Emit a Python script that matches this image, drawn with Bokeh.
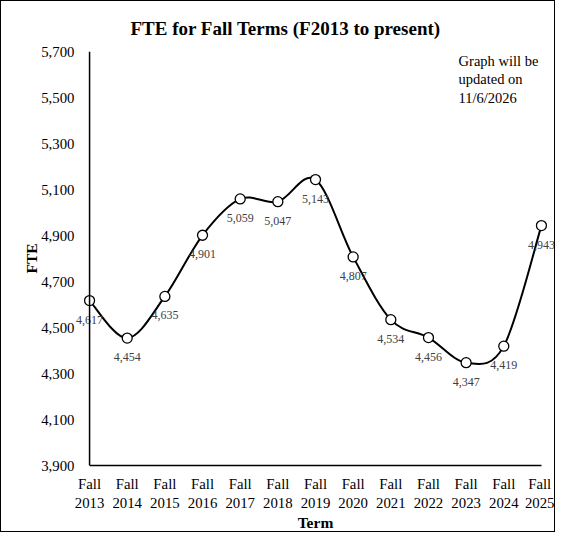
import numpy as np
from bokeh.core.properties import value
from bokeh.embed import file_html
from bokeh.models import FixedTicker, NumeralTickFormatter, Range1d, Span
from bokeh.plotting import figure
from bokeh.resources import INLINE

term_labels = [
    "Fall\n2013", "Fall\n2014", "Fall\n2015", "Fall\n2016", "Fall\n2017",
    "Fall\n2018", "Fall\n2019", "Fall\n2020", "Fall\n2021", "Fall\n2022",
    "Fall\n2023", "Fall\n2024", "Fall\n2025",
]
fte = [4617, 4454, 4635, 4901, 5059, 5047, 5143, 4807, 4534, 4456, 4347, 4419, 4943]
y_ticks = [3900, 4100, 4300, 4500, 4700, 4900, 5100, 5300, 5500, 5700]
note_lines = ["Graph will be", "updated on", "11/6/2026"]

FONT = "Liberation Serif"


def smooth_segments(xs, ys):
    # cubic bezier pieces through the points (Excel style smoothed line)
    px = np.asarray(xs, dtype=float)
    py = np.asarray(ys, dtype=float)
    px = np.concatenate([[px[0]], px, [px[-1]]])
    py = np.concatenate([[py[0]], py, [py[-1]]])
    seg = dict(
        x0=px[1:-2], y0=py[1:-2],
        x1=px[2:-1], y1=py[2:-1],
        cx0=px[1:-2] + (px[2:-1] - px[:-3]) / 6,
        cy0=py[1:-2] + (py[2:-1] - py[:-3]) / 6,
        cx1=px[2:-1] - (px[3:] - px[1:-2]) / 6,
        cy1=py[2:-1] - (py[3:] - py[1:-2]) / 6,
    )
    return seg


xs = list(range(len(fte)))

p = figure(
    width=555,
    height=532,
    x_range=Range1d(-0.4, len(fte) - 0.6),
    y_range=Range1d(y_ticks[0], y_ticks[-1]),
    output_backend="svg",
    toolbar_location=None,
    min_border_left=73,
    min_border_right=0,
    min_border_top=50,
    min_border_bottom=68,
)
p.styles = {"border": "1px solid black"}
p.outline_line_color = None
p.grid.grid_line_color = None

p.title.text = "FTE  for Fall Terms  (F2013 to present)"
p.title.align = "left"
p.title.offset = 56
p.title.standoff = 26
p.title.text_font = FONT
p.title.text_font_size = "19px"
p.title.text_font_style = "bold"
p.title.text_color = "black"

# x axis
p.xaxis.ticker = FixedTicker(ticks=xs)
p.xaxis.major_label_overrides = {i: lab for i, lab in enumerate(term_labels)}
p.xaxis.bounds = (0, len(fte) - 1)
p.xaxis.axis_label = "Term"
p.xaxis.major_label_standoff = 10
p.xaxis.axis_label_standoff = 0

# y axis (line drawn as a span at the first term)
p.yaxis.ticker = FixedTicker(ticks=y_ticks)
p.yaxis.formatter = NumeralTickFormatter(format="0,0")
p.yaxis.axis_label = "FTE"
p.yaxis.axis_line_color = None
p.yaxis.major_label_standoff = 0
p.yaxis.axis_label_standoff = -2
p.add_layout(Span(location=0, dimension="height", line_color="black", line_width=1.5))

for ax in (p.xaxis, p.yaxis):
    ax.major_tick_line_color = None
    ax.minor_tick_line_color = None
    ax.major_tick_out = 0
    ax.major_label_text_font = FONT
    ax.major_label_text_font_size = "14.8px"
    ax.major_label_text_color = "black"
    ax.axis_label_text_font = FONT
    ax.axis_label_text_font_size = "15.5px"
    ax.axis_label_text_font_style = "bold"
    ax.axis_label_text_color = "black"
p.xaxis.axis_line_color = "black"
p.xaxis.axis_line_width = 1.5

seg = smooth_segments(xs, fte)
p.bezier(line_color="black", line_width=2, **seg)

p.scatter(xs, fte, marker="circle", size=10, fill_color="white",
          line_color="black", line_width=1.3)

p.text(xs, fte, text=[f"{v:,}" for v in fte], text_align="center",
       text_baseline="middle", y_offset=19, text_font=value(FONT),
       text_font_size="12px", text_color="#404040")

# note in the top right corner, one line each
p.text(x=[9.8] * len(note_lines), y=[y_ticks[-1]] * len(note_lines), text=note_lines,
       y_offset=[1 + 18.5 * i for i in range(len(note_lines))], text_baseline="top",
       text_font=value(FONT), text_font_size="14.5px", text_color="black")

open("out.html", "w").write(file_html(p, INLINE))
